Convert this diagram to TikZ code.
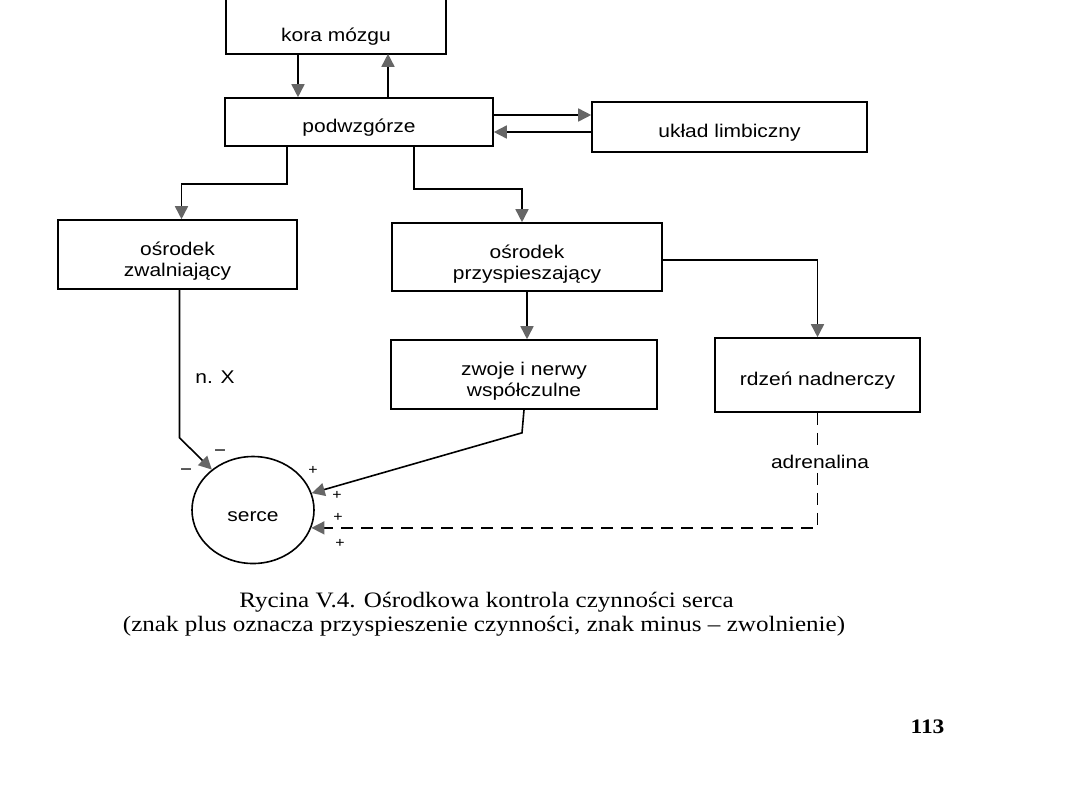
\documentclass[tikz,border=0pt]{standalone}
\usepackage{fontspec}
\setmainfont{Liberation Sans}[FakeStretch=1.14]
\newfontfamily\capfont{Liberation Serif}[FakeStretch=1.14]
\usetikzlibrary{positioning,arrows.meta,shapes.geometric}

\tikzset{
  blok/.style={draw, line width=0.8pt, align=center, inner sep=0pt,
    font=\fontsize{9.2}{10.5}\selectfont,
    execute at begin node={\rule{0pt}{#1}}},
  blok/.default=12pt,
  strz/.style={line width=0.8pt, -{Triangle[length=6.5pt,width=6.5pt,color=black!60]}},
  znak/.style={inner sep=0pt, font=\fontsize{7}{8}\selectfont},
}

\begin{document}
\begin{tikzpicture}[x=0.5pt,y=-0.5pt]
  \useasboundingbox (0,0) rectangle (1080,810);
  % bloki
  \node[blok, draw=none, minimum width=109pt, minimum height=22pt] (kora) at (336,31) {kora mózgu};
  \draw[line width=0.8pt] ([yshift=4.5pt]kora.north west) -- (kora.south west) -- (kora.south east) -- ([yshift=4.5pt]kora.north east);
  \node[blok, minimum width=134pt, minimum height=24pt] (podw) at (359,122) {podwzgórze};
  \node[blok, minimum width=137.5pt, minimum height=25pt] (limb) at (729.5,127) {układ limbiczny};
  \node[blok=24pt, minimum width=119.5pt, minimum height=34.5pt] (zwal) at (177.5,254.5) {ośrodek\\zwalniający};
  \node[blok=24pt, minimum width=135pt, minimum height=34pt] (przysp) at (527,257) {ośrodek\\przyspieszający};
  \node[blok=24pt, minimum width=133pt, minimum height=34.5pt] (zwoje) at (524,374.5) {zwoje i nerwy\\współczulne};
  \node[blok, minimum width=102.5pt, minimum height=37pt] (rdzen) at (817.5,375) {rdzeń nadnerczy};
  \node[blok, ellipse, minimum width=61pt, minimum height=53.5pt] (serce) at (253,510) {serce};

  \coordinate (k1) at (298,0); \coordinate (k2) at (388,0);
  \coordinate (h1) at (0,115); \coordinate (h2) at (0,132);
  \coordinate (p1) at (287,0); \coordinate (p2) at (414,0);

  % polaczenia
  \draw[strz] (kora.south -| k1) -- (podw.north -| k1);
  \draw[strz] (podw.north -| k2) -- (kora.south -| k2);
  \draw[strz] (podw.east |- h1) -- (limb.west |- h1);
  \draw[strz] (limb.west |- h2) -- (podw.east |- h2);
  \draw[strz] (podw.south -| p1) -- ++(0,37) -| ([xshift=2pt]zwal.north);
  \draw[strz] (podw.south -| p2) -- ++(0,42) -| ([xshift=-2.5pt]przysp.north);
  \draw[strz] (przysp.south) -- (przysp.south |- zwoje.north);
  \draw[strz] ([yshift=-1.5pt]przysp.east) -| (rdzen.north);
  \draw[strz] ([xshift=1pt]zwal.south) -- ++(0,148) -- (serce);
  \draw[strz] (zwoje.south) -- ++(-2,23) -- (serce);
  \draw[strz, dash pattern=on 6pt off 4pt] (rdzen.south) |- (serce.-17);

  \node[fill=white, inner sep=1.5pt, font=\fontsize{9.2}{10.5}\selectfont] (adr) at (820,462) {adrenalina};
  \node[font=\fontsize{9.2}{10.5}\selectfont] (nx) at (215,377) {n. X};

  % znaki
  \node[znak, font=\fontsize{9}{10}\selectfont] (m1) at (220,453) {−};
  \node[znak, font=\fontsize{9}{10}\selectfont] (m2) at (186,472) {−};
  \node[znak] (pl1) at (313,470) {+};
  \node[znak] (pl2) at (337,495) {+};
  \node[znak] (pl3) at (338,517) {+};
  \node[znak] (pl4) at (340,543) {+};

  % podpis
  \node[anchor=base, font=\capfont\fontsize{11}{12}\selectfont] (cap1) at (486.5,607) {Rycina V.4. Ośrodkowa kontrola czynności serca};
  \node[anchor=base, font=\capfont\fontsize{11}{12}\selectfont] (cap2) at (484,631) {(znak plus oznacza przyspieszenie czynności, znak minus – zwolnienie)};
  \node[anchor=base, font=\capfont\bfseries\fontsize{10.3}{12}\selectfont] (str) at (927.5,733) {113};
\end{tikzpicture}
\end{document}
